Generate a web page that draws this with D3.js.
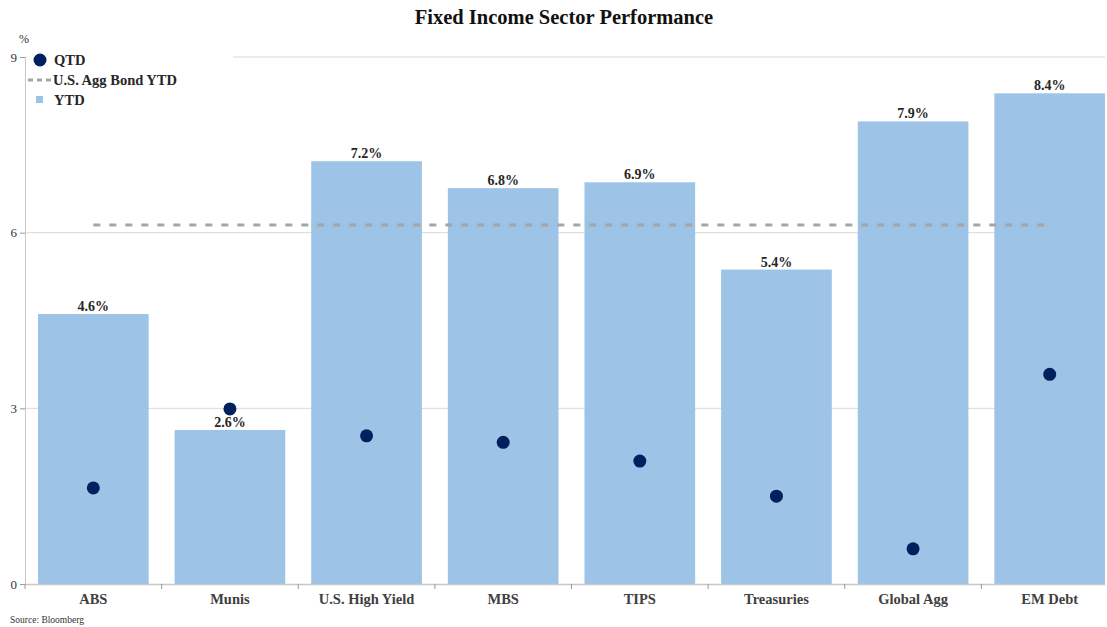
<!DOCTYPE html>
<html>
<head>
<meta charset="utf-8">
<script src="https://cdn.jsdelivr.net/npm/d3@7/dist/d3.min.js"></script>
<style>
  body { margin: 0; background: #fff; }
  svg { display: block; }
  text { font-family: "Liberation Serif", "DejaVu Serif", serif; }
</style>
</head>
<body>
<svg id="chart" width="1107" height="627"></svg>
<script>
const categories = ["ABS", "Munis", "U.S. High Yield", "MBS", "TIPS", "Treasuries", "Global Agg", "EM Debt"];
const ytdValues = [4.61, 2.63, 7.22, 6.76, 6.86, 5.37, 7.90, 8.38];
const qtdValues = [1.64, 2.99, 2.53, 2.42, 2.10, 1.50, 0.60, 3.58];
const aggBondYTD = 6.13;
const yTicks = [0, 3, 6, 9];
const titleText = "Fixed Income Sector Performance";
const sourceText = "Source: Bloomberg";

(function () {
const svg = d3.select("#chart");
const mLeft = 25, mRight = 1118, mTop = 57, mBottom = 584, gridRight = 1105;

const x = d3.scaleBand().domain(categories).range([mLeft, mRight]).paddingInner(0.19).paddingOuter(0.095);
const y = d3.scaleLinear().domain([0, 9]).range([mBottom, mTop]);

// title
svg.append("text").attr("x", 564).attr("y", 24).attr("text-anchor", "middle")
  .attr("font-size", 20.5).attr("font-weight", "bold").attr("fill", "#111").text(titleText);

// gridlines
svg.append("g").selectAll("line").data(yTicks.filter(d => d > 0)).join("line")
  .attr("x1", mLeft).attr("x2", gridRight)
  .attr("y1", d => y(d)).attr("y2", d => y(d))
  .attr("stroke", "#d9d9d9").attr("stroke-width", 1);

// y axis
const yAxis = d3.axisLeft(y).tickValues(yTicks).tickSize(5).tickPadding(3);
const gy = svg.append("g").attr("transform", `translate(${mLeft},0)`).call(yAxis);
gy.select(".domain").attr("stroke", "#c8c8c8");
gy.selectAll(".tick line").attr("stroke", "#999");
gy.selectAll(".tick text").attr("font-family", "Liberation Serif").attr("font-size", 13).attr("fill", "#333");

svg.append("text").attr("x", 19).attr("y", 43).attr("font-size", 12).attr("fill", "#333").text("%");

// bars
svg.append("g").selectAll("rect").data(categories).join("rect")
  .attr("x", d => x(d)).attr("width", x.bandwidth())
  .attr("y", (d, i) => y(ytdValues[i]))
  .attr("height", (d, i) => y(0) - y(ytdValues[i]))
  .attr("fill", "#9dc3e6");

// aggregate dashed line
const xc = d => x(d) + x.bandwidth() / 2;
svg.append("line")
  .attr("x1", xc(categories[0])).attr("x2", xc(categories[categories.length - 1]))
  .attr("y1", y(aggBondYTD)).attr("y2", y(aggBondYTD))
  .attr("stroke", "#a6a6a6").attr("stroke-width", 3).attr("stroke-dasharray", "7,9");

// QTD dots
svg.append("g").selectAll("circle").data(categories).join("circle")
  .attr("cx", d => xc(d)).attr("cy", (d, i) => y(qtdValues[i])).attr("r", 6.5)
  .attr("fill", "#002060");

// value labels
svg.append("g").selectAll("text").data(categories).join("text")
  .attr("x", d => x(d) + x.bandwidth() / 2)
  .attr("y", (d, i) => y(ytdValues[i]) - 3)
  .attr("text-anchor", "middle").attr("font-size", 14).attr("font-weight", "bold").attr("fill", "#262626")
  .text((d, i) => ytdValues[i].toFixed(1) + "%");

// x axis
const gx = svg.append("g").attr("transform", `translate(0,${mBottom})`);
gx.append("line").attr("x1", mLeft).attr("x2", gridRight).attr("y1", 0.5).attr("y2", 0.5).attr("stroke", "#c8c8c8").attr("stroke-width", 1.5);
const step = x.step();
gx.selectAll("line.tk").data(categories).join("line").attr("class", "tk")
  .attr("x1", d => x(d) - (step - x.bandwidth()) / 2).attr("x2", d => x(d) - (step - x.bandwidth()) / 2)
  .attr("y1", 0).attr("y2", 5).attr("stroke", "#999");
gx.selectAll("text").data(categories).join("text")
  .attr("x", d => x(d) + x.bandwidth() / 2).attr("y", 20)
  .attr("text-anchor", "middle").attr("font-size", 14.5).attr("font-weight", "bold").attr("fill", "#404040")
  .text(d => d);

// legend
const lg = svg.append("g");
lg.append("rect").attr("x", 27).attr("y", 50).attr("width", 206).attr("height", 60).attr("fill", "#fff");
lg.append("circle").attr("cx", 40).attr("cy", 60).attr("r", 6.5).attr("fill", "#002060");
lg.append("text").attr("x", 54).attr("y", 65).attr("font-size", 14.5).attr("font-weight", "bold").attr("fill", "#262626").text("QTD");
lg.append("line").attr("x1", 28).attr("x2", 51).attr("y1", 80).attr("y2", 80)
  .attr("stroke", "#a6a6a6").attr("stroke-width", 3).attr("stroke-dasharray", "5,4");
lg.append("text").attr("x", 53).attr("y", 85).attr("font-size", 14.5).attr("font-weight", "bold").attr("fill", "#262626").text("U.S. Agg Bond YTD");
lg.append("rect").attr("x", 36).attr("y", 96).attr("width", 7).attr("height", 7).attr("fill", "#9dc3e6");
lg.append("text").attr("x", 54).attr("y", 105).attr("font-size", 14.5).attr("font-weight", "bold").attr("fill", "#262626").text("YTD");

// source
svg.append("text").attr("x", 10).attr("y", 623).attr("font-size", 9.5).attr("fill", "#333").text(sourceText);
})();
</script>
</body>
</html>
